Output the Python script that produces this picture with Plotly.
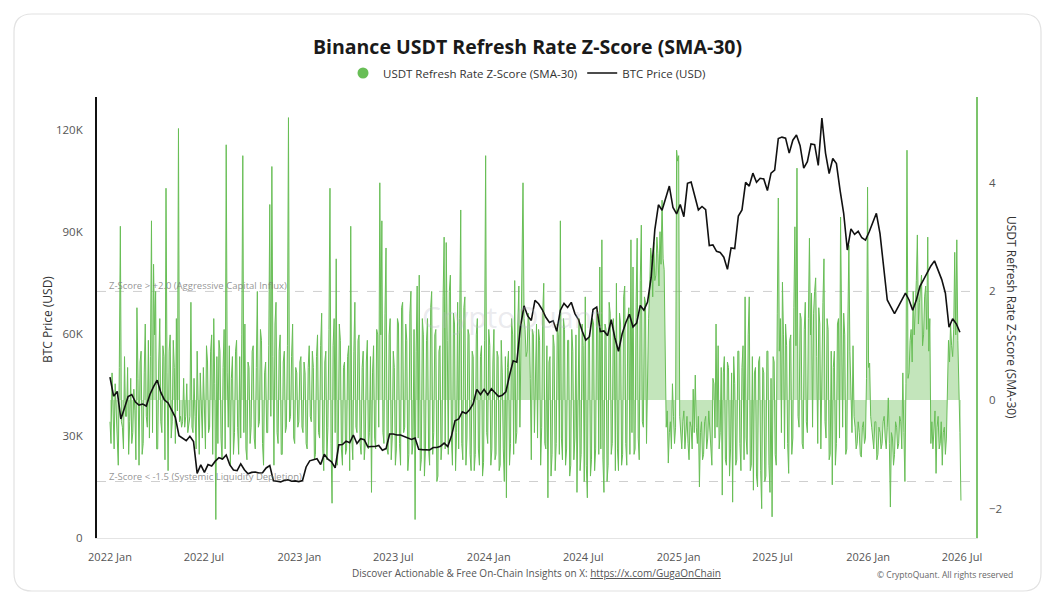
import plotly.graph_objects as go
import pandas as pd

# ---------------- DATA ----------------
# USDT Refresh Rate Z-Score (SMA-30), sampled every 2 days from 2022-01-01
z_2022 = [-0.4, -0.8, 0.5, -0.2, -0.9, 0.3, -0.3, -1.0, -1.2, 0.6, 3.2, -0.4, -0.5, -0.9, 0.8, -0.3,
          -0.3, 0.6, -1.0, -0.4, 0.4, -0.8, -0.6, 0.2, -0.2, -1.1, 1.7, 0.4, -1.2, 0.7,
          0.9, -1.0, -0.8, 0.5, 1.4, -0.3, -0.5, 1.1, -0.7, 0.8, 3.3, -0.6, 2.5, 1.2, 2.0, -0.9,
          -0.9, 0.7, 1.5, -0.4, -0.6, 1.0, 0.8, -1.1, 3.9, 0.5, -1.3, 0.9, 1.2, -0.7,
          -0.4, 1.1, 0.6, -0.8, 1.5, -0.2, 5.0, -0.4, -0.3, -0.5, -0.4, 0.4, -0.5, -0.3, 0.3, -0.6,
          -0.4, -0.3, 1.8, -0.5, -0.6, 0.4, -0.3, -0.9, 0.9, -0.4, -1.0, 0.5, -0.2, -0.7, 0.6, -0.3,
          -0.9, 1.0, 0.7, -0.6, -0.5, 0.9, 1.2, -1.0, 1.5, 0.3, -2.2, 0.8, -0.8, 1.1,
          0.9, -0.7, -1.1, 0.6, 1.3, -0.9, 4.7, 0.5, -0.5, 1.0, -1.2, 0.4, 0.8, -1.0, -0.6, 0.9,
          1.1, -0.5, -1.0, 0.8, -0.7, 1.2, 4.5, -0.6, 1.4, -0.9, -1.1, 0.7, 0.6, -0.8,
          -0.5, 0.9, 1.0, -0.7, -0.9, 0.6, 2.0, -0.5, -0.4, 1.3, 1.1, -0.8, -1.2, 0.5, 0.7, -0.6,
          -0.6, 1.0, 3.6, -0.3, 4.3, 0.8, -1.2, 1.4, 1.8, -0.6, -0.8, 0.9, 1.2, -1.0,
          -1.0, 0.7, 0.9, -0.6, -0.5, 1.0, 5.2, -0.4, -0.3, 0.8, 1.4, -0.7, -0.8, 0.6, 0.5, -0.5,
          -0.4, 0.7]
z_2023 = [0.8, -0.5, -0.6, 0.7, 0.5, -0.8, -0.9, 0.6, 1.0, -0.3, -0.4, 0.9, 0.6, -1.1,
          -1.0, 0.8, 1.2, -0.6, -0.7, 1.0, 1.6, -0.9, -1.3, 0.7, 0.9, -1.1, -0.5, 1.3,
          3.9, -0.8, -1.9, 1.0, 1.5, -0.6, 2.6, -1.2, -0.8, 1.4, 1.1, -0.9, -1.2, 0.6, 0.7, -1.0,
          -0.9, 0.8, 1.0, -1.3, 3.2, -0.7, -1.1, 0.9, 1.8, -0.5, -0.6, 1.1, 1.2, -0.8, -1.0, 0.6,
          0.9, -1.1, -0.8, 0.7, 1.1, -0.9, -0.6, 0.8, -1.7, 0.5, 1.0, -0.7, -0.9, 1.3, 1.2, -0.5,
          4.0, 1.2, 3.3, -0.6, -0.8, 1.6, 2.8, -0.9, -1.0, 1.2, 1.5, -1.1, -0.7, 0.9,
          0.6, -1.2, -0.9, 1.5, 1.4, -0.8, -1.2, 1.7, 1.8, -0.6, -0.5, 1.4, 1.1, -1.3, -1.0, 1.6,
          2.0, -1.0, -0.8, 1.3, -2.2, 0.9, 2.1, -0.7, 2.3, -1.3, -1.1, 1.5, 1.2, -1.4, -0.9, 1.1,
          1.5, -0.9, -1.2, 1.7, 2.0, -1.0, -0.6, 1.2, 1.3, -1.5, -1.4, 0.9, 1.0, -1.1,
          -0.8, 1.9, 3.0, -0.9, 2.9, 1.1, -1.0, 2.0, 2.3, -0.7, -1.2, 1.6, 1.4, -1.3, -0.6, 1.8,
          -0.9, 1.5, 3.5, -0.8, -1.1, 1.7, 1.9, -1.2, -0.7, 1.3, 1.2, -1.0, -1.3, 0.9,
          0.8, -1.3, -1.0, 1.2, 1.5, -0.9, -1.2, 0.8, 1.0, -1.4, -1.15, 1.1, 4.5, -0.6, -0.8, 1.3]
z_2024 = [1.0, -1.2, -0.9, 0.7, 1.3, -1.1, -1.0, 0.9, 0.8, -1.3, -1.2, 1.1, 0.5, -0.9, -1.5, 0.8,
          -1.8, 0.6, 0.9, -1.2, -0.8, 1.5, 1.2, -1.0, 2.2, -0.8, -0.6, 1.4, 2.1, -0.5,
          1.0, 1.8, 4.0, 1.5, 1.3, 0.8, 0.9, 1.6, 1.4, 0.4, -1.1, 1.3, 1.2, -0.6, 0.6, 1.4,
          -0.7, 1.3, 1.1, -1.2, -0.5, 1.6, 2.15, -0.8, -0.9, 1.0, -1.8, 0.7, 0.8, -1.4, -1.0, 1.2,
          1.0, -1.3, -0.8, 1.4, 1.2, -1.0, 3.3, -0.7, -1.1, 1.5, 1.3, -1.2, -0.9, 1.1,
          1.1, -1.4, -1.2, 1.3, 0.9, -1.1, -0.7, 1.2, -1.7, 0.8, 1.5, -1.3, -1.0, 1.4, 1.0, -1.5,
          1.9, -1.2, -1.8, 1.1, 1.2, -1.4, -1.1, 1.5, 1.4, -1.3, -0.9, 1.7, 1.6, -1.0, 2.45, -0.9,
          2.95, -1.1, -1.7, 1.4, 1.3, -1.5, -1.2, 1.8, 1.6, -1.0, -0.8, 1.5, 1.1, -1.3,
          2.15, -0.9, -1.3, 1.6, 1.4, -1.2, -1.0, 1.9, 2.1, -0.8, -1.2, 1.5, 1.7, -1.0, 2.95, -0.6,
          2.45, -1.0, -0.9, 1.8, 2.98, -0.7, -1.1, 2.2, 3.22, -0.4, -0.5, 1.9, 1.8, -0.8, 0.6, 1.5,
          2.0, 2.8, 2.6, 1.9, 2.9, 2.2, 2.3, 3.0, 2.7, 2.1, 3.1, 2.5, 3.68, 2.6, 2.4, 1.2,
          -0.5, -0.2, -1.16, -0.6, -0.4, -0.9, 0.3, -0.3, -0.8, -0.5, 4.6, 4.4]
z_2025 = [4.5, -0.3, -0.6, -0.9, -0.4, -0.2, -0.9, -0.5, -0.3, -0.8, -1.1, -0.4, -0.5, -0.9, 0.2, -0.6,
          0.46, -0.5, -0.8, -0.3, -1.6, -0.6, -0.4, -1.1, -1.0, -0.4, -0.3, -0.9, -0.7, -0.2,
          -0.5, -1.0, -1.2, 0.4, 0.3, -0.7, 1.4, -0.5, 1.0, -0.9, -0.6, 0.6, -1.75, 0.5, 0.8, -1.1,
          -1.2, 0.7, 0.6, -1.4, -0.9, 0.5, -1.88, 0.8, 0.3, -1.2, -1.1, 0.9, 0.9, -0.8, -1.3, 0.6,
          1.0, -1.1, 1.9, -0.7, -1.0, 1.2, 1.9, -1.3, -1.2, 0.8, -1.66, 0.5, 0.6, -1.4,
          -1.6, 0.7, 0.8, -1.3, -2.0, 0.6, 0.5, -1.5, -1.4, 0.9, 0.9, -1.2, -1.7, 0.4, -2.15, 0.8,
          0.7, -1.0, -1.2, 1.6, 3.72, 0.9, 1.5, -0.6, 2.17, 1.2, -0.9, 1.4, 1.0, -0.8, -1.35, 1.1,
          1.2, -1.0, -0.7, 1.7, 3.19, 1.0, 4.27, -0.3, -0.5, 1.6, 1.5, -0.8, -0.9, 1.3, 1.8, -0.4,
          -0.6, 1.5, 2.98, 1.2, 1.97, -0.5, 1.6, 2.0, 2.25, 0.8, -0.8, 1.7, 1.4, -0.9,
          1.0, 1.8, 2.6, -0.4, -0.7, 1.5, 1.3, -1.1, -1.0, 0.9, -1.56, 0.6, 0.9, -1.2, -0.8, 1.4,
          1.5, -0.7, 3.37, 1.1, -0.5, 1.6, 1.2, -1.0, -0.9, 1.4, 2.85, 0.9, 0.3, -0.6,
          1.0, -0.3, -0.5, -0.9, -0.8, -0.4, -0.6, -1.0, -1.05, -0.5, -0.4, -0.8, -0.7, 0.4, 3.92, 0.6]
z_2026 = [0.68, -0.3, -0.5, -0.8, -0.9, -0.4, -0.4, -1.1, -1.0, -0.5, -0.6, -0.9, -0.8, -0.4, -0.3, -0.7,
          -0.9, -0.5, 0.04, -0.8, -1.97, -0.6, -0.7, -1.2, -1.0, -0.4, -0.5, -0.9, -0.8, -0.3,
          -0.4, -0.9, 0.5, -0.6, -1.5, 0.3, 4.6, 0.4, 0.5, 1.1, 1.3, 0.7, 2.0, 1.2, 1.6, 2.2,
          3.04, 1.4, 1.8, 2.1, 2.3, 1.0, 1.2, 1.9, 2.1, 1.3, 3.0, 0.9, 1.5, -0.8, -0.4, -0.9,
          -0.6, -0.2, -1.35, -0.5, -0.3, -0.9, -0.8, -0.4, -1.2, -0.6, -0.5, -1.0, -0.7, 0.6,
          1.1, 0.7, 1.4, 1.0, 0.8, 1.3, 2.72, 1.2, 2.95, 1.1, 0.42, -0.6, -1.85]

# BTC price (USD, thousands), weekly from 2022-01-01
btc_2022 = [47.3, 41.7, 43.1, 35.0, 38.2, 41.6, 42.2, 40.0, 39.1, 39.4, 38.8, 42.2, 44.5,
            46.4, 42.8, 40.6, 39.7, 37.7, 35.5, 30.1, 29.4, 28.6, 29.9, 28.4, 19.0, 21.5,
            19.3, 21.6, 21.2, 22.6, 23.6, 23.2, 24.4, 21.5, 20.0, 19.8, 21.8, 20.1, 18.9,
            19.3, 19.4, 19.1, 19.2, 20.6, 21.3, 16.8, 16.7, 16.5, 17.0, 17.1, 16.7, 16.8, 16.6]
btc_2023 = [16.9, 20.9, 22.7, 23.0, 23.3, 21.6, 24.6, 23.2, 22.4, 20.6, 27.4, 27.5, 28.5,
            28.0, 30.3, 27.8, 29.2, 28.9, 26.8, 26.9, 26.9, 27.2, 25.8, 26.3, 30.6, 30.6,
            30.3, 30.3, 29.9, 29.3, 29.0, 29.4, 26.1, 26.0, 25.9, 25.9, 26.6, 26.6, 27.0,
            27.9, 26.9, 29.9, 34.5, 35.0, 37.1, 36.6, 37.7, 39.5, 43.7, 42.2, 43.7, 42.1]
btc_2024 = [43.9, 42.8, 41.6, 42.0, 43.0, 47.8, 52.1, 51.7, 62.0, 68.3, 65.3, 64.0, 69.9,
            68.9, 67.2, 64.9, 63.4, 63.9, 60.8, 67.0, 69.0, 67.8, 69.3, 66.0, 64.2, 60.9,
            58.2, 59.2, 67.2, 67.9, 60.7, 60.9, 59.5, 64.2, 58.9, 54.9, 60.0, 63.3, 65.8,
            62.1, 63.2, 68.4, 67.0, 69.4, 76.7, 90.6, 98.0, 96.4, 99.9, 103.5, 97.2, 95.3]
btc_2025 = [98.1, 94.5, 104.3, 104.7, 100.6, 96.5, 97.5, 96.6, 86.0, 86.2, 84.3, 84.0, 82.6,
            79.0, 85.3, 85.1, 94.7, 96.5, 104.6, 103.5, 107.3, 104.6, 105.8, 105.6, 102.2, 107.3,
            108.2, 117.5, 117.9, 117.6, 113.2, 117.0, 118.5, 115.4, 108.8, 110.7, 115.9, 115.7, 109.6,
            123.5, 113.2, 107.2, 111.6, 110.1, 102.3, 95.5, 84.7, 90.9, 89.3, 90.2, 88.3, 87.6]
btc_2026 = [90.0, 93.0, 95.5, 89.5, 80.0, 70.0, 68.0, 66.0, 68.0, 70.0, 72.0, 70.0, 67.0,
            70.0, 74.0, 76.0, 78.0, 80.0, 81.5, 79.0, 76.0, 72.0, 62.0, 64.5, 63.0, 60.5]

z_values = z_2022 + z_2023 + z_2024 + z_2025 + z_2026
z_dates = pd.date_range("2022-01-01", periods=len(z_values), freq="2D")
btc_values = [v * 1000 for v in (btc_2022 + btc_2023 + btc_2024 + btc_2025 + btc_2026)]
btc_dates = pd.date_range("2022-01-01", periods=len(btc_values), freq="7D")

btc_tickvals = [0, 30000, 60000, 90000, 120000]
btc_ticktext = ["0", "30K", "60K", "90K", "120K"]
z_tickvals = [-2, 0, 2, 4]

# ---------------- STYLE ----------------
FONT = "Open Sans"
GREEN = "rgb(104,190,86)"
GREEN_FILL = "rgba(104,190,86,0.4)"
W, H = 1055, 606
L, R, T, B = 97, 976, 97, 538


def px(xp):
    return (xp - L) / (R - L)


def py(yp):
    return (B - yp) / (B - T)


fig = go.Figure()
fig.add_trace(go.Scatter(
    x=z_dates, y=z_values, mode="lines", fill="tozeroy",
    line=dict(color=GREEN, width=1), fillcolor=GREEN_FILL,
    showlegend=False, yaxis="y", hoverinfo="skip"))
fig.add_trace(go.Scatter(
    x=[None], y=[None], mode="markers", marker=dict(size=11, color=GREEN),
    name="USDT Refresh Rate Z-Score (SMA-30)", yaxis="y"))
fig.add_trace(go.Scatter(
    x=btc_dates, y=btc_values, mode="lines", line=dict(color="#111111", width=1.6),
    name="BTC Price (USD)", yaxis="y2"))

# rounded card border
x0, x1, y0, y1, r = 14, 1041, 14, 591, 18
path = (f"M {px(x0 + r)},{py(y0)} L {px(x1 - r)},{py(y0)} Q {px(x1)},{py(y0)} {px(x1)},{py(y0 + r)} "
        f"L {px(x1)},{py(y1 - r)} Q {px(x1)},{py(y1)} {px(x1 - r)},{py(y1)} "
        f"L {px(x0 + r)},{py(y1)} Q {px(x0)},{py(y1)} {px(x0)},{py(y1 - r)} "
        f"L {px(x0)},{py(y0 + r)} Q {px(x0)},{py(y0)} {px(x0 + r)},{py(y0)} Z")

shapes = [
    dict(type="path", path=path, xref="paper", yref="paper",
         line=dict(color="#e2e2e2", width=1.2), layer="below"),
    dict(type="line", xref="paper", yref="y", x0=0, x1=1, y0=2, y1=2,
         line=dict(color="#cfcfcf", width=1, dash="dash"), layer="below"),
    dict(type="line", xref="paper", yref="y", x0=0, x1=1, y0=-1.5, y1=-1.5,
         line=dict(color="#cfcfcf", width=1, dash="dash"), layer="below"),
]

annotations = [
    dict(text="Z-Score > +2.0 (Aggressive Capital Influx)", xref="paper", yref="y",
         x=px(107), y=2, xanchor="left", yanchor="middle", yshift=6, showarrow=False,
         font=dict(family=FONT, size=9.5, color="rgba(120,120,120,0.8)")),
    dict(text="Z-Score < -1.5 (Systemic Liquidity Depletion)", xref="paper", yref="y",
         x=px(107), y=-1.5, xanchor="left", yanchor="middle", yshift=5, showarrow=False,
         font=dict(family=FONT, size=9.5, color="rgba(120,120,120,0.8)")),
    dict(text="BTC Price (USD)", xref="paper", yref="paper", x=px(47), y=py(320),
         textangle=-90, showarrow=False, xanchor="center", yanchor="middle",
         font=dict(family=FONT, size=12, color="#333")),
    dict(text="USDT Refresh Rate Z-Score (SMA-30)", xref="paper", yref="paper",
         x=px(1012), y=py(317), textangle=90, showarrow=False,
         xanchor="center", yanchor="middle",
         font=dict(family=FONT, size=12, color="#333")),
    dict(text="CryptoQuant", xref="paper", yref="paper", x=px(512), y=py(316),
         showarrow=False, xanchor="center", yanchor="middle",
         font=dict(family=FONT, size=30, color="rgba(185,185,195,0.3)")),
    dict(text="Discover Actionable & Free On-Chain Insights on X: <u>https://x.com/GugaOnChain</u>",
         xref="paper", yref="paper", x=px(536), y=py(573), showarrow=False,
         xanchor="center", yanchor="middle",
         font=dict(family=FONT, size=10, color="#555")),
    dict(text="© CryptoQuant. All rights reserved", xref="paper", yref="paper",
         x=px(1015), y=py(574), showarrow=False, xanchor="right", yanchor="middle",
         font=dict(family=FONT, size=8.5, color="#666")),
]

fig.update_layout(
    width=W, height=H, autosize=False,
    margin=dict(l=L, r=W - R, t=T, b=H - B),
    paper_bgcolor="white", plot_bgcolor="white",
    font=dict(family=FONT, color="#555"),
    title=dict(text="<b>Binance USDT Refresh Rate Z-Score (SMA-30)</b>",
               x=0.5, xref="container", y=1 - 47 / H, yref="container",
               xanchor="center", yanchor="middle",
               font=dict(family=FONT, size=19.5, color="#1a1a1a")),
    legend=dict(orientation="h", x=px(527), xanchor="center", y=py(73), yanchor="middle",
                font=dict(family=FONT, size=11.5, color="#333"), bgcolor="rgba(0,0,0,0)"),
    xaxis=dict(type="date", range=["2021-12-07", "2026-07-28"],
               tick0="2022-01-01", dtick="M6", tickformat="%Y %b",
               showgrid=False, zeroline=False, showline=True, linecolor="#e4e4e4",
               linewidth=1, ticks="", ticklabelstandoff=9,
               tickfont=dict(family=FONT, size=11, color="#555")),
    yaxis=dict(side="right", range=[-2.54, 5.58], tickvals=z_tickvals,
               showgrid=False, zeroline=False, showline=True, linecolor="rgb(124,196,108)",
               linewidth=1.5, ticks="", ticklabelstandoff=9,
               tickfont=dict(family=FONT, size=11.5, color="#555")),
    yaxis2=dict(side="left", overlaying="y", range=[0, 129700],
                tickvals=btc_tickvals, ticktext=btc_ticktext,
                showgrid=False, zeroline=False, showline=True, linecolor="#111",
                linewidth=2, ticks="", ticklabelstandoff=10,
                tickfont=dict(family=FONT, size=11.5, color="#555")),
    shapes=shapes, annotations=annotations,
    hovermode="x",
)

fig.write_html("out.html")
